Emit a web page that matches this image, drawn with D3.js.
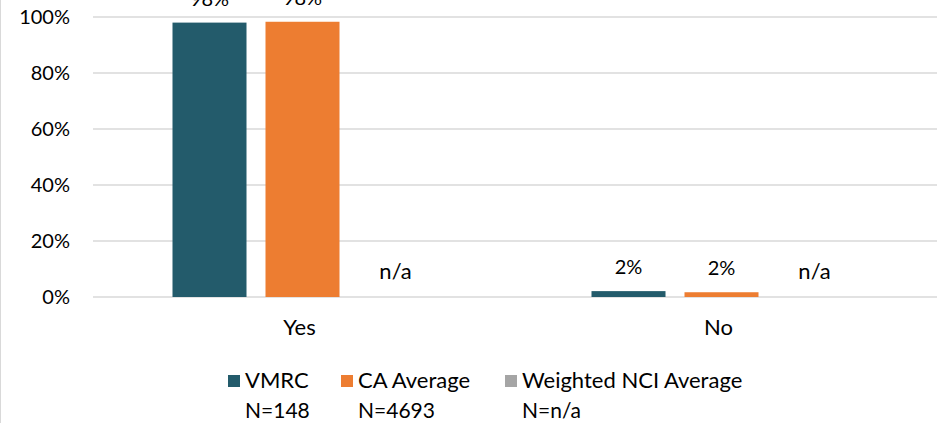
<!DOCTYPE html>
<html>
<head>
<meta charset="utf-8">
<script src="https://cdn.jsdelivr.net/npm/d3@7"></script>
<style>
  body { margin: 0; background: #fff; }
  svg { display: block; font-family: Lato, "Open Sans", sans-serif; }
</style>
</head>
<body>
<div id="chart"></div>
<script>
const categories = ["Yes", "No"];
const seriesNames = ["VMRC", "CA Average", "Weighted NCI Average"];
const seriesN = ["N=148", "N=4693", "N=n/a"];
const seriesColors = ["#235B6B", "#ED7D31", "#A5A5A5"];
// values in %, null = n/a
const vmrcValues = [98, 2.1];
const caValues = [98.3, 1.7];
const nciValues = [null, null];
const valueLabels = [["98%", "98%", "n/a"], ["2%", "2%", "n/a"]];
const yTicks = [0, 20, 40, 60, 80, 100];

const W = 937, H = 423;
const svg = d3.select("#chart").append("svg")
    .attr("width", W)
    .attr("height", H);

// chart border (only left side shows in the crop)
svg.append("rect")
    .attr("x", 0.5).attr("y", -2)
    .attr("width", W + 2).attr("height", H + 4)
    .attr("fill", "none")
    .attr("stroke", "#d9d9d9");

const x0 = d3.scaleBand().domain(categories).range([93, 931]);
const x1 = d3.scaleBand().domain(seriesNames).range([79.5, 339.5]).paddingInner(19 / 93);
const y = d3.scaleLinear().domain([0, 100]).range([297, 17]);

// grid
svg.append("g").selectAll("line")
    .data(yTicks)
    .enter().append("line")
    .attr("x1", 93).attr("x2", W)
    .attr("y1", d => y(d)).attr("y2", d => y(d))
    .attr("stroke", "#d9d9d9")
    .attr("stroke-width", 1.5);

svg.append("g").selectAll("text")
    .data(yTicks)
    .enter().append("text")
    .attr("x", 70)
    .attr("y", d => y(d) + 7)
    .attr("text-anchor", "end")
    .style("font-size", "20px")
    .attr("fill", "#000")
    .text(d => d + "%");

const rows = categories.map((c, i) => ({
    cat: c,
    vals: [vmrcValues[i], caValues[i], nciValues[i]].map((v, j) => ({
        name: seriesNames[j], v: v, color: seriesColors[j], label: valueLabels[i][j]
    }))
}));

const groups = svg.selectAll(".grp")
    .data(rows)
    .enter().append("g")
    .attr("class", "grp")
    .attr("transform", d => `translate(${x0(d.cat)},0)`);

groups.selectAll("rect")
    .data(d => d.vals.filter(v => v.v !== null))
    .enter().append("rect")
    .attr("x", d => x1(d.name))
    .attr("width", x1.bandwidth())
    .attr("y", d => y(d.v))
    .attr("height", d => y(0) - y(d.v))
    .attr("fill", d => d.color);

groups.selectAll("text")
    .data(d => d.vals)
    .enter().append("text")
    .attr("x", d => x1(d.name) + x1.bandwidth() / 2)
    .attr("y", d => y(d.v === null ? 0 : d.v) - (d.v === null ? 18 : 17))
    .attr("text-anchor", "middle")
    .style("font-size", d => d.v === null ? "22px" : "20px")
    .attr("fill", "#000")
    .text(d => d.label);

// category labels
svg.append("g").selectAll("text")
    .data(categories)
    .enter().append("text")
    .attr("x", d => x0(d) + x0.bandwidth() / 2 - 3)
    .attr("y", 335)
    .attr("text-anchor", "middle")
    .style("font-size", "22px")
    .attr("fill", "#000")
    .text(d => d);

// legend
const legendX = [228, 341, 505];
const legend = svg.append("g").selectAll("g")
    .data(seriesNames)
    .enter().append("g")
    .attr("transform", (d, i) => `translate(${legendX[i]},0)`);

legend.append("rect")
    .attr("x", 0).attr("y", 375)
    .attr("width", 12).attr("height", 12)
    .attr("fill", (d, i) => seriesColors[i]);

legend.append("text")
    .attr("x", 17).attr("y", 388)
    .style("font-size", "22px")
    .attr("fill", "#000")
    .text(d => d);

legend.append("text")
    .attr("x", 17).attr("y", 418)
    .style("font-size", "21px")
    .attr("fill", "#000")
    .text((d, i) => seriesN[i]);
</script>
</body>
</html>
